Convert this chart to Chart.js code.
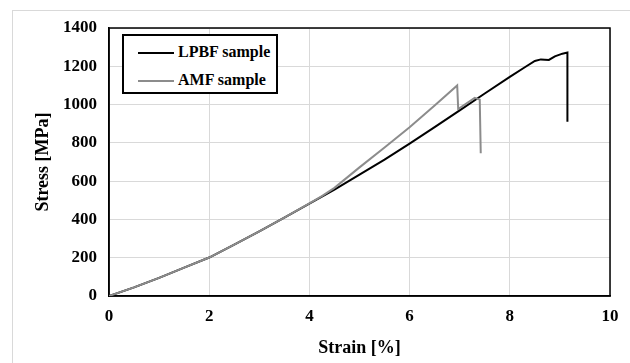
<!DOCTYPE html>
<html>
<head>
<meta charset="utf-8">
<script src="https://cdn.jsdelivr.net/npm/chart.js@4.4.1/dist/chart.umd.min.js"></script>
<style>
  html, body { margin: 0; padding: 0; background: #fff; }
  #wrap { position: relative; width: 630px; height: 363px; overflow: hidden; }
  #frame { position: absolute; left: 12px; top: 10px; width: 700px; height: 400px;
           border-left: 1px solid #d9d9d9; border-top: 1px solid #d9d9d9; }
  #chart { position: absolute; left: 0; top: 0; }
  #legend { position: absolute; left: 122px; top: 34px; width: 152px; height: 56px;
            border: 2px solid #000; background: #fff;
            font: bold 16px "Liberation Serif", serif; color: #000; }
  .item { position: absolute; left: 14px; height: 20px; line-height: 20px; white-space: nowrap; }
  .item i { display: inline-block; width: 36px; height: 0; vertical-align: middle;
            margin-right: 4px; border-top: 2px solid; }
</style>
</head>
<body>
<div id="wrap">
  <div id="frame"></div>
  <canvas id="chart" width="630" height="363"></canvas>
  <div id="legend">
    <div class="item" style="top:6px"><i style="border-color:#000"></i>LPBF sample</div>
    <div class="item" style="top:34px"><i style="border-color:#8c8c8c"></i>AMF sample</div>
  </div>
</div>
<script>
// stress-strain curves
const lpbfStrain = [0, 0.5, 1, 1.5, 2, 2.5, 3, 3.5, 4, 4.5, 5, 5.5, 6, 6.5, 7, 7.5, 8, 8.3, 8.5, 8.62, 8.78, 8.9, 9.05, 9.15, 9.15];
const lpbfStress = [0, 45, 95, 148, 201, 268, 338, 410, 482, 556, 634, 712, 796, 882, 970, 1058, 1145, 1195, 1228, 1236, 1233, 1252, 1266, 1272, 910];
const amfStrain = [0, 0.5, 1, 1.5, 2, 2.5, 3, 3.5, 4, 4.25, 4.5, 5, 5.5, 6, 6.5, 6.95, 6.97, 7.3, 7.4, 7.42];
const amfStress = [0, 45, 95, 148, 201, 268, 338, 410, 484, 522, 565, 672, 776, 882, 995, 1100, 977, 1035, 1026, 746];

const FONT = 'Liberation Serif';

function points(xs, ys) {
  return xs.map((x, i) => ({ x, y: ys[i] }));
}

// black frame round the plot area (top and right sides)
const plotFrame = {
  id: 'plotFrame',
  beforeDatasetsDraw(chart) {
    const { ctx, chartArea: a } = chart;
    ctx.save();
    ctx.strokeStyle = '#000';
    ctx.lineWidth = 1.5;
    ctx.strokeRect(a.left, a.top, a.right - a.left, a.bottom - a.top);
    ctx.restore();
  },
};

new Chart(document.getElementById('chart'), {
  type: 'scatter',
  data: {
    datasets: [
      {
        label: 'LPBF sample',
        data: points(lpbfStrain, lpbfStress),
        showLine: true,
        borderColor: '#000',
        borderWidth: 2,
        pointRadius: 0,
        tension: 0,
        order: 1,
      },
      {
        label: 'AMF sample',
        data: points(amfStrain, amfStress),
        showLine: true,
        borderColor: '#8c8c8c',
        borderWidth: 2,
        pointRadius: 0,
        tension: 0,
        order: 0,
      },
    ],
  },
  options: {
    responsive: false,
    animation: false,
    devicePixelRatio: 1,
    layout: { padding: { left: 0, right: 20, top: 28, bottom: 0 } },
    plugins: { legend: { display: false }, tooltip: { enabled: false } },
    scales: {
      x: {
        type: 'linear',
        min: 0,
        max: 10,
        afterFit: (s) => { s.height = 67; },
        grid: { color: '#d9d9d9', drawTicks: false },
        border: { color: '#000', width: 1.5 },
        ticks: { stepSize: 2, padding: 10, color: '#000', callback: (v) => String(v),
                 font: { family: FONT, size: 17, weight: 'bold' } },
        title: { display: true, text: 'Strain [%]', color: '#000', padding: { top: 0, bottom: 4 },
                 font: { family: FONT, size: 18, weight: 'bold' } },
      },
      y: {
        min: 0,
        max: 1400,
        afterFit: (s) => { s.width = 109; },
        grid: { color: '#d9d9d9', drawTicks: false },
        border: { color: '#000', width: 1.5 },
        ticks: { stepSize: 200, padding: 12, color: '#000', callback: (v) => String(v),
                 font: { family: FONT, size: 17, weight: 'bold' } },
        title: { display: true, text: 'Stress [MPa]', color: '#000', padding: { top: 33, bottom: 0 },
                 font: { family: FONT, size: 18, weight: 'bold' } },
      },
    },
  },
  plugins: [plotFrame],
});
</script>
</body>
</html>
